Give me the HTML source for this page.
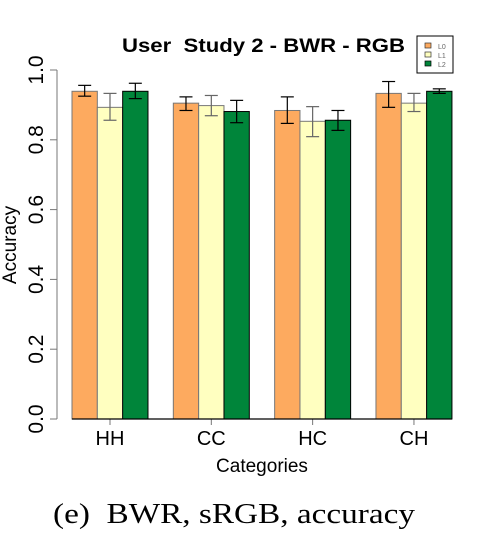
<!DOCTYPE html>
<html><head><meta charset="utf-8"><style>
html,body{margin:0;padding:0;background:#fff;}
svg{display:block;font-family:"Liberation Sans",Arial,sans-serif;}
text{white-space:pre;}
</style></head><body>
<svg id="chart" width="477" height="547" viewBox="0 0 477 547" xmlns="http://www.w3.org/2000/svg">
<text x="122" y="52" font-size="19" font-weight="bold" textLength="283" lengthAdjust="spacingAndGlyphs">User  Study 2 - BWR - RGB</text>
<g>
<rect x="417" y="36" width="36" height="37" fill="#fff" stroke="#000" stroke-width="1"/>
<rect x="425" y="43" width="6" height="5" fill="#fdaa5f" stroke="#333" stroke-width="0.7"/>
<text x="438" y="49" font-size="7" fill="#666">L0</text>
<rect x="425" y="52" width="6" height="5" fill="#ffffc0" stroke="#333" stroke-width="0.7"/>
<text x="438" y="58" font-size="7" fill="#666">L1</text>
<rect x="425" y="61" width="6" height="5" fill="#00853a" stroke="#000" stroke-width="0.7"/>
<text x="438" y="67" font-size="7" fill="#666">L2</text>
</g>
<g id="bars"></g>
<g id="axes"></g>
<text transform="translate(16,245) rotate(-90)" text-anchor="middle" font-size="19">Accuracy</text>
<text x="262" y="472" text-anchor="middle" font-size="19">Categories</text>
<text x="53" y="523" font-size="28" font-family="'Liberation Serif',serif" textLength="362" lengthAdjust="spacingAndGlyphs">(e)  BWR, sRGB, accuracy</text>
</svg>
<script>
const categories = ["HH","CC","HC","CH"];
const seriesNames = ["L0","L1","L2"];
const valuesL0 = [0.939,0.905,0.884,0.933];
const valuesL1 = [0.893,0.898,0.853,0.905];
const valuesL2 = [0.939,0.881,0.856,0.939];
const upperL0 = [0.956,0.923,0.923,0.967];
const upperL1 = [0.933,0.927,0.895,0.933];
const upperL2 = [0.962,0.913,0.884,0.946];
const lowerL0 = [0.925,0.884,0.847,0.893];
const lowerL1 = [0.856,0.869,0.809,0.881];
const lowerL2 = [0.918,0.849,0.827,0.933];
const yTicks = [0,0.2,0.4,0.6,0.8,1.0];
const yTickLabels = ["0.0","0.2","0.4","0.6","0.8","1.0"];

const NS="http://www.w3.org/2000/svg";
const y0=419, y1=70;
function yScale(v){return y0-(y0-y1)*v;}
const barW=25.33, groupStart=72;
function xBar(g,s){return groupStart+g*4*barW+s*barW;}
const fills=["#fdaa5f","#ffffc0","#00853a"];
const strokes=["#777","#777","#000"];
const errColors=["#000","#666","#000"];
const vals=[valuesL0,valuesL1,valuesL2], ups=[upperL0,upperL1,upperL2], lows=[lowerL0,lowerL1,lowerL2];
function mk(tag,attrs,parent){const e=document.createElementNS(NS,tag);for(const k in attrs)e.setAttribute(k,attrs[k]);parent.appendChild(e);return e;}
const bars=document.getElementById('bars'), axes=document.getElementById('axes');
categories.forEach((c,g)=>{
  seriesNames.forEach((s,i)=>{
    const x=xBar(g,i), y=yScale(vals[i][g]);
    const r=mk('rect',{x:x,y:y,width:barW,height:y0-y,fill:fills[i],stroke:strokes[i],'stroke-width':1},bars);
    
    
    const cx=x+barW/2, yu=yScale(ups[i][g]), yl=yScale(lows[i][g]);
    const eg=mk('g',{stroke:errColors[i],'stroke-width':1.2},bars);
    
    
    mk('line',{x1:cx,x2:cx,y1:yu,y2:yl},eg);
    mk('line',{x1:cx-6.5,x2:cx+6.5,y1:yu,y2:yu},eg);
    mk('line',{x1:cx-6.5,x2:cx+6.5,y1:yl,y2:yl},eg);
  });
  const tx=xBar(g,1)+barW/2;
  const t=mk('line',{x1:tx,x2:tx,y1:y0,y2:y0+6,stroke:'#777','stroke-width':1},axes);
  
  
  const l=mk('text',{x:tx,y:445,'text-anchor':'middle','font-size':20},axes);
  l.textContent=c;
  
  
});
const base=mk('line',{x1:groupStart,x2:xBar(3,3),y1:y0,y2:y0,stroke:'#000','stroke-width':1.2},axes);


const yl=mk('line',{x1:57,x2:57,y1:yScale(yTicks[0]),y2:yScale(yTicks[yTicks.length-1]),stroke:'#777','stroke-width':1},axes);


yTicks.forEach((v,i)=>{
  const yy=yScale(v);
  const t=mk('line',{x1:50,x2:57,y1:yy,y2:yy,stroke:'#777','stroke-width':1},axes);
  
  
  const l=mk('text',{transform:'translate(43,'+yy+') rotate(-90)','text-anchor':'middle','font-size':21},axes);
  l.textContent=yTickLabels[i];
  
  
});
</script>
</body></html>
